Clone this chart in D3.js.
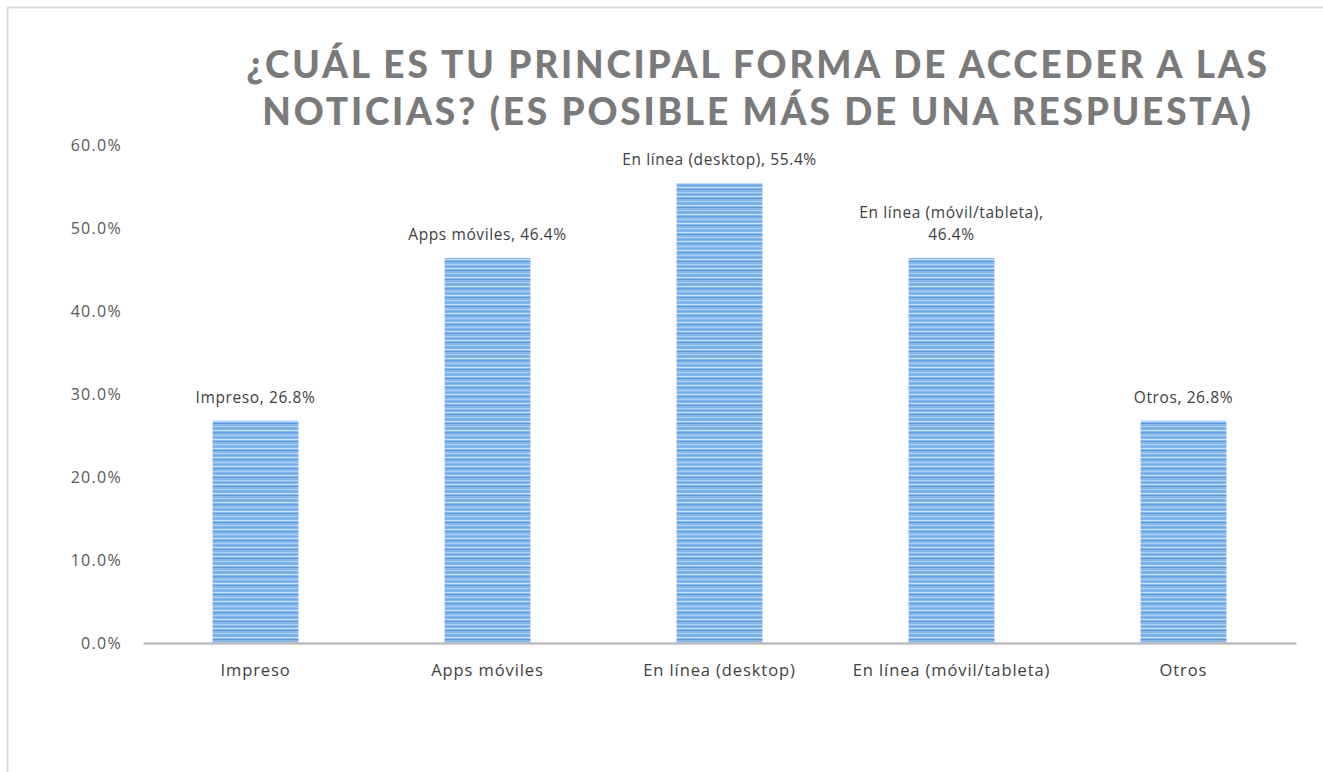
<!DOCTYPE html>
<html>
<head>
<meta charset="utf-8">
<script src="https://cdn.jsdelivr.net/npm/d3@7"></script>
<style>
  body { margin: 0; background: #fff; }
  text { font-family: "Open Sans", Lato, sans-serif; }
</style>
</head>
<body>
<script>
var categories = ["Impreso", "Apps móviles", "En línea (desktop)", "En línea (móvil/tableta)", "Otros"];
var values = [0.268, 0.464, 0.554, 0.464, 0.268];
var labelLines = [
  ["Impreso, 26.8%"],
  ["Apps móviles, 46.4%"],
  ["En línea (desktop), 55.4%"],
  ["En línea (móvil/tableta),", "46.4%"],
  ["Otros, 26.8%"]
];
var yTicks = [0, 0.1, 0.2, 0.3, 0.4, 0.5, 0.6];
var titleLines = ["¿CUÁL ES TU PRINCIPAL FORMA DE ACCEDER A LAS", "NOTICIAS? (ES POSIBLE MÁS DE UNA RESPUESTA)"];

var size = { width: 1323, height: 772 };
var margin = { top: 145, right: 27, bottom: 129, left: 143 };

var svg = d3.select("body").append("svg")
  .attr("width", size.width)
  .attr("height", size.height);

// frame (only left and top edges are visible in the shot)
svg.append("path")
  .attr("d", "M7.5,772 V7.5 H1323")
  .attr("fill", "none")
  .attr("stroke", "#d9d9d9")
  .attr("stroke-width", 2);

// striped fill for the bars
var defs = svg.append("defs");
var pat = defs.append("pattern")
  .attr("id", "stripes")
  .attr("patternUnits", "userSpaceOnUse")
  .attr("width", 10).attr("height", 9);
pat.append("rect").attr("width", 10).attr("height", 9).attr("fill", "#86b7ea");
pat.append("rect").attr("y", 0).attr("width", 10).attr("height", 1).attr("fill", "#5d9be0");
pat.append("rect").attr("y", 3).attr("width", 10).attr("height", 1).attr("fill", "#acd0f3");
pat.append("rect").attr("y", 5).attr("width", 10).attr("height", 1).attr("fill", "#72aae5");
pat.append("rect").attr("y", 7).attr("width", 10).attr("height", 1).attr("fill", "#c8e0f7");

var x = d3.scaleBand()
  .domain(categories)
  .range([margin.left, size.width - margin.right])
  .paddingInner(0.63)
  .paddingOuter(0.3);

var y = d3.scaleLinear()
  .domain([0, 0.6])
  .range([size.height - margin.bottom, margin.top]);

// title
svg.append("text")
  .attr("x", 758)
  .attr("y", 78)
  .attr("text-anchor", "middle")
  .attr("fill", "#7a7a7a")
  .style("font-family", "Lato, sans-serif")
  .style("font-weight", "900")
  .style("font-size", "37px")
  .style("letter-spacing", "2.8px")
  .selectAll("tspan")
  .data(titleLines)
  .enter().append("tspan")
  .attr("x", 758)
  .attr("dy", function(d, i) { return i === 0 ? 0 : 47; })
  .text(function(d) { return d; });

// y axis labels
var yAxis = svg.append("g")
  .attr("transform", "translate(" + margin.left + ",0)")
  .call(d3.axisLeft(y).tickValues(yTicks).tickFormat(d3.format(".1%")).tickSize(0).tickPadding(21));
yAxis.select(".domain").remove();
yAxis.selectAll("text")
  .attr("fill", "#595959")
  .style("font-size", "16px")
  .style("letter-spacing", "1.3px")
  .style("font-family", "'Open Sans', sans-serif");

// bars
svg.selectAll("rect.bar")
  .data(values)
  .enter().append("rect")
  .attr("class", "bar")
  .attr("x", function(d, i) { return x(categories[i]); })
  .attr("width", x.bandwidth())
  .attr("y", function(d) { return y(d); })
  .attr("height", function(d) { return y(0) - y(d); })
  .attr("fill", "url(#stripes)");

// x axis
var xAxis = svg.append("g")
  .attr("transform", "translate(0," + y(0) + ")")
  .call(d3.axisBottom(x).tickSize(0).tickPadding(21));
xAxis.select(".domain")
  .attr("stroke", "#bfbfbf")
  .attr("stroke-width", 2.5);
xAxis.selectAll("text")
  .attr("fill", "#404040")
  .style("font-size", "16.5px")
  .style("letter-spacing", "0.9px")
  .style("font-family", "'Open Sans', sans-serif");

// data labels
svg.selectAll("text.lbl")
  .data(values)
  .enter().append("text")
  .attr("class", "lbl")
  .attr("text-anchor", "middle")
  .attr("fill", "#404040")
  .style("font-size", "15.5px")
  .style("letter-spacing", "0.6px")
  .attr("x", function(d, i) { return x(categories[i]) + x.bandwidth() / 2; })
  .attr("y", function(d, i) { return y(d) - 18 - (labelLines[i].length - 1) * 22; })
  .each(function(d, i) {
    d3.select(this).selectAll("tspan")
      .data(labelLines[i])
      .enter().append("tspan")
      .attr("x", x(categories[i]) + x.bandwidth() / 2)
      .attr("dy", function(t, j) { return j === 0 ? 0 : 22; })
      .text(function(t) { return t; });
  });
</script>
</body>
</html>
